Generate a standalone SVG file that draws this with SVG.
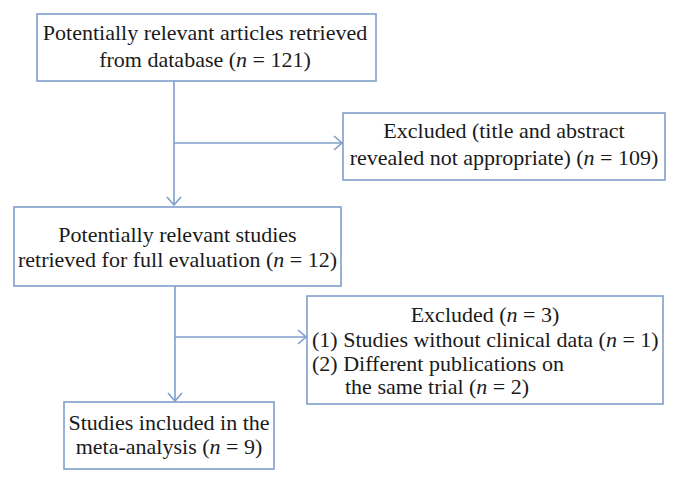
<svg xmlns="http://www.w3.org/2000/svg" width="676" height="483" viewBox="0 0 676 483">
<style>
.box{fill:#fff;stroke:#7f9fcb;stroke-width:1.6}
.t{font-family:"Liberation Serif","Times New Roman",serif;font-size:22px;fill:#1a1a1a}
.c{text-anchor:middle}
.i{font-style:italic}
.ln{fill:none;stroke:#7f9fcb;stroke-width:1.6}
</style>
<defs>
<marker id="arr" viewBox="0 0 10 16" refX="9" refY="8" markerWidth="10" markerHeight="16" markerUnits="userSpaceOnUse" orient="auto">
<path d="M1,1 L9,8 L1,15" fill="none" stroke="#7f9fcb" stroke-width="1.6"/>
</marker>
</defs>
<rect width="676" height="483" fill="#fff"/>
<g id="connectors">
<line class="ln" x1="174" y1="81" x2="174" y2="205" marker-end="url(#arr)"/>
<line class="ln" x1="174" y1="143" x2="342" y2="143" marker-end="url(#arr)"/>
<line class="ln" x1="175" y1="286" x2="175" y2="401" marker-end="url(#arr)"/>
<line class="ln" x1="175" y1="337" x2="306" y2="337" marker-end="url(#arr)"/>
</g>
<g id="n1">
<rect class="box" x="37" y="14" width="339" height="67"/>
<text class="t c" x="205" y="40">Potentially relevant articles retrieved</text>
<text class="t c" x="205" y="67">from database (<tspan class="i">n</tspan> = 121)</text>
</g>
<g id="n2">
<rect class="box" x="343" y="113" width="322" height="67"/>
<text class="t c" x="504" y="138">Excluded (title and abstract</text>
<text class="t c" x="504" y="165">revealed not appropriate) (<tspan class="i">n</tspan> = 109)</text>
</g>
<g id="n3">
<rect class="box" x="14" y="207" width="327" height="79"/>
<text class="t c" x="177.5" y="242">Potentially relevant studies</text>
<text class="t c" x="177.5" y="267">retrieved for full evaluation (<tspan class="i">n</tspan> = 12)</text>
</g>
<g id="n4">
<rect class="box" x="307" y="296" width="356" height="108"/>
<text class="t c" x="485" y="322">Excluded (<tspan class="i">n</tspan> = 3)</text>
<text class="t" x="312" y="347">(1) Studies without clinical data (<tspan class="i">n</tspan> = 1)</text>
<text class="t" x="312" y="371">(2) Different publications on</text>
<text class="t" x="345" y="394">the same trial (<tspan class="i">n</tspan> = 2)</text>
</g>
<g id="n5">
<rect class="box" x="64" y="402" width="210" height="67"/>
<text class="t c" x="169" y="430">Studies included in the</text>
<text class="t c" x="169" y="454">meta-analysis (<tspan class="i">n</tspan> = 9)</text>
</g>
</svg>
